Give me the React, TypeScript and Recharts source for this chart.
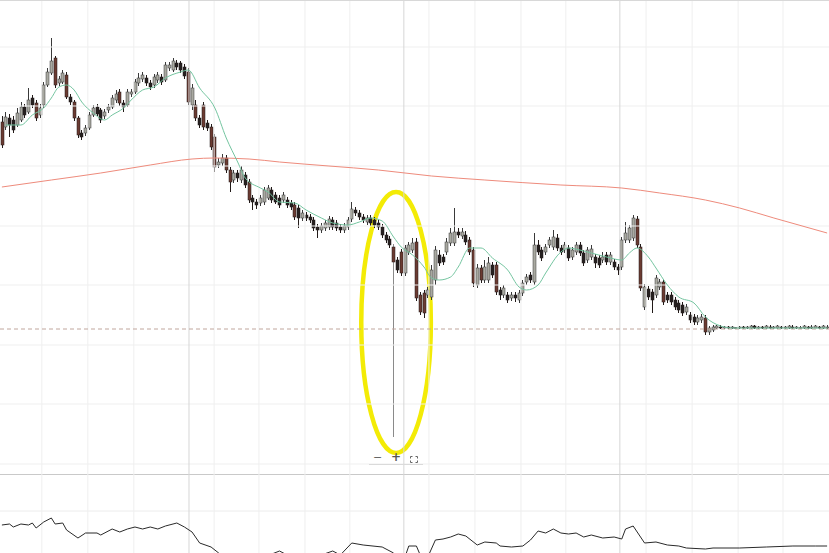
import {
  Bar,
  ComposedChart,
  Line,
  ReferenceArea,
  ReferenceLine,
  XAxis,
  YAxis,
} from "recharts";

// OHLC per candle (price units, larger = higher)
const opens = [
  378, 373, 382, 380, 375, 380, 393, 388, 402, 397,
  385, 395, 415, 427, 442, 417, 418, 425, 403, 398,
  382, 367, 367, 372, 385, 393, 390, 384, 390, 393,
  400, 408, 397, 395, 406, 408, 417, 421, 422, 417,
  415, 420, 423, 420, 432, 430, 437, 437, 433, 428,
  395, 395, 382, 395, 377, 373, 363, 335, 337, 342,
  330, 320, 327, 320, 325, 318, 302, 298, 297, 298,
  302, 310, 305, 302, 300, 300, 297, 295, 292, 282,
  285, 283, 280, 273, 270, 272, 273, 280, 277, 273,
  270, 273, 281, 290, 287, 283, 278, 282, 280, 277,
  273, 265, 261, 253, 240, 248, 227, 248, 250, 258,
  205, 207, 205, 203, 220, 245, 243, 248, 257, 257,
  268, 264, 265, 260, 250, 215, 232, 220, 220, 235,
  235, 210, 205, 205, 202, 205, 200, 207, 218, 225,
  218, 255, 250, 248, 255, 253, 262, 252, 250, 252,
  243, 248, 255, 247, 240, 243, 243, 242, 240, 245,
  238, 238, 233, 233, 260, 260, 262, 281, 253, 193,
  211, 208, 205, 213, 218, 205, 205, 200, 197, 195,
  188, 185, 183, 178, 180, 182, 168, 170, 172, 173,
  172, 173, 172, 172, 172, 173, 172, 172, 174, 172,
  173, 172, 173, 172, 172, 173, 172, 172, 173, 172,
  172, 172, 173, 172, 172, 173, 172, 172,
];
const highs = [
  384, 388, 386, 384, 392, 398, 396, 412, 405, 400,
  396, 418, 432, 462, 444, 424, 430, 428, 406, 400,
  384, 370, 375, 388, 395, 396, 392, 391, 396, 405,
  410, 411, 400, 411, 411, 421, 427, 428, 425, 420,
  426, 428, 426, 438, 438, 442, 440, 439, 436, 432,
  416, 400, 385, 398, 380, 376, 366, 342, 346, 345,
  333, 330, 330, 334, 328, 321, 305, 301, 305, 313,
  315, 313, 308, 305, 308, 303, 300, 298, 295, 290,
  288, 286, 283, 276, 277, 280, 284, 283, 280, 276,
  277, 283, 298, 293, 290, 286, 285, 285, 283, 280,
  276, 268, 264, 256, 243, 251, 255, 258, 262, 262,
  208, 210, 213, 235, 254, 250, 246, 262, 272, 292,
  272, 272, 269, 263, 253, 236, 235, 240, 243, 238,
  238, 213, 215, 208, 208, 208, 210, 220, 226, 228,
  267, 260, 253, 256, 263, 270, 266, 255, 258, 255,
  253, 258, 258, 250, 253, 255, 246, 245, 248, 248,
  248, 241, 236, 263, 278, 275, 285, 284, 256, 216,
  214, 211, 225, 221, 221, 208, 208, 203, 200, 198,
  196, 188, 186, 185, 186, 185, 174, 175, 175, 175,
  174, 174, 174, 173, 174, 174, 174, 175, 175, 174,
  174, 175, 175, 174, 175, 174, 174, 175, 175, 174,
  174, 175, 174, 175, 175, 174, 175, 175,
];
const lows = [
  352, 370, 363, 367, 373, 378, 382, 386, 392, 379,
  382, 392, 413, 425, 412, 414, 416, 401, 395, 379,
  362, 360, 364, 370, 383, 384, 377, 381, 387, 391,
  397, 394, 388, 393, 403, 406, 414, 418, 414, 410,
  412, 417, 415, 418, 429, 428, 430, 427, 421, 395,
  390, 379, 372, 370, 369, 350, 328, 332, 334, 327,
  308, 317, 318, 317, 312, 297, 290, 291, 294, 295,
  300, 297, 296, 292, 297, 292, 290, 280, 272, 279,
  279, 277, 269, 262, 267, 269, 270, 270, 269, 267,
  267, 270, 278, 284, 280, 277, 275, 274, 272, 270,
  262, 257, 252, 63, 227, 224, 224, 245, 247, 199,
  185, 182, 202, 200, 215, 234, 235, 245, 254, 254,
  262, 261, 255, 245, 213, 212, 217, 217, 217, 222,
  205, 200, 202, 197, 199, 198, 197, 204, 215, 217,
  215, 245, 239, 245, 252, 250, 249, 245, 247, 239,
  240, 245, 244, 234, 237, 240, 232, 232, 237, 235,
  235, 230, 225, 230, 257, 257, 259, 252, 209, 190,
  200, 187, 202, 210, 195, 197, 195, 190, 187, 184,
  185, 177, 175, 175, 177, 165, 165, 168, 171, 171,
  171, 171, 171, 171, 171, 171, 171, 171, 171, 171,
  171, 171, 171, 171, 171, 171, 171, 171, 171, 171,
  171, 171, 171, 171, 172, 171, 171, 171,
];
const closes = [
  355, 383, 375, 370, 387, 393, 385, 400, 395, 382,
  392, 415, 428, 439, 415, 421, 427, 403, 398, 382,
  365, 363, 372, 385, 392, 386, 380, 388, 393, 402,
  406, 397, 393, 408, 408, 418, 422, 425, 417, 413,
  423, 425, 418, 435, 435, 439, 433, 430, 424, 398,
  412, 382, 375, 373, 372, 353, 333, 338, 342, 330,
  318, 327, 322, 330, 315, 300, 298, 295, 302, 310,
  312, 300, 298, 295, 305, 295, 293, 283, 282, 287,
  282, 280, 272, 270, 274, 277, 281, 273, 272, 270,
  274, 280, 291, 287, 283, 280, 282, 277, 275, 273,
  265, 260, 255, 238, 230, 227, 252, 255, 257, 202,
  188, 187, 210, 230, 250, 237, 238, 258, 267, 268,
  265, 268, 258, 248, 217, 232, 220, 233, 237, 225,
  208, 205, 212, 200, 205, 202, 207, 217, 223, 220,
  255, 248, 242, 253, 260, 263, 252, 248, 255, 242,
  250, 255, 247, 237, 250, 251, 237, 235, 243, 238,
  245, 233, 230, 260, 267, 272, 282, 255, 212, 213,
  203, 200, 222, 218, 198, 200, 198, 193, 190, 187,
  193, 180, 178, 182, 183, 168, 172, 173, 174, 172,
  173, 172, 173, 172.5, 173, 172, 173, 174, 172, 173,
  172, 174, 172, 173, 174, 172, 173, 174, 172, 173,
  172.5, 174, 172, 173, 174, 172, 174, 173,
];

// moving averages read at anchor candles: [candle index, value]
const fastMa = [
  [1, 375], [5, 375], [8, 385], [11, 392], [13, 402], [15, 413], [17, 415],
  [19, 410], [21, 398], [24, 387], [27, 380], [29, 385], [32, 392], [34, 400],
  [37, 410], [40, 413], [43, 422], [47, 428], [49, 430], [52, 412], [56, 392],
  [59, 362], [62, 338], [64, 322], [68, 312], [70, 308], [73, 298], [77, 297],
  [80, 290], [84, 282], [87, 277], [91, 275], [94, 278], [97, 282], [100, 279],
  [103, 263], [105, 253], [108, 245], [111, 233], [113, 222], [115, 220],
  [118, 223], [120, 233], [123, 252], [126, 252], [129, 242], [133, 230],
  [136, 213], [138, 210], [141, 215], [143, 227], [147, 248], [149, 252],
  [152, 250], [155, 247], [159, 243], [163, 240], [165, 247], [167, 252],
  [170, 243], [172, 232], [175, 215], [178, 203], [182, 197], [185, 183],
  [189, 174], [192, 172], [200, 172], [210, 172], [217, 172],
];
const slowMa = [
  [0, 313], [13, 320], [26, 327], [39, 335], [50, 341], [56, 342], [65, 341],
  [73, 338], [86, 334], [99, 330], [113, 324], [127, 320], [147, 315],
  [163, 312], [173, 307], [185, 300], [194, 292], [203, 282], [217, 267],
];
// lower pane oscillator: [candle index, value]
const oscillator = [
  [0, 35], [2, 36], [3, 33], [5, 36], [7, 35], [8, 37], [9, 32], [11, 38],
  [13, 42], [14, 36], [16, 37], [17, 30], [20, 22], [22, 27], [25, 27],
  [26, 25], [29, 31], [31, 28], [33, 31], [35, 33], [37, 31], [39, 33],
  [41, 31], [43, 34], [45, 36], [46, 37], [48, 33], [50, 28], [52, 17],
  [55, 13], [57, 7], [59, 0], [62, -3], [66, 2], [69, 4], [71, 6], [73, 9],
  [75, 5], [78, 3], [81, 4], [84, 5], [87, 9], [89, 5], [92, 17], [95, 15],
  [100, 13], [103, 7], [104, 2], [106, 3], [107, 14], [109, 14], [110, 5],
  [112, 3], [114, 20], [116, 21], [118, 23], [120, 26], [122, 24], [125, 15],
  [127, 18], [130, 17], [131, 14], [134, 13], [137, 14], [139, 20], [141, 29],
  [143, 27], [145, 31], [147, 27], [149, 26], [151, 27], [153, 23], [155, 25],
  [158, 22], [161, 23], [163, 21], [164, 31], [166, 34], [169, 17], [172, 18],
  [175, 15], [178, 14], [180, 12], [185, 11], [187, 12], [194, 12], [201, 13],
  [208, 14], [214, 14], [217, 14],
];

const priceGrid = [36, 96, 155, 215, 274, 334, 394, 453];
const lightTimeGrid = [
  10.5, 22.6, 34.7, 55.8, 67.6, 79.7, 91.5, 112.3, 124.4, 136.5, 148.3, 169.4,
  181.5, 193.6, 205.4,
];
const monthGrid = [49.2, 105.7, 162.5];
const dashedLevel = 171;
// highlighted region (candle index span, price span)
const markIdx = [94.5, 112.8];
const markPrice = [47, 308];

const W = 829;
const MAIN_H = 474;
const LOW_H = 79;
const X_DOMAIN: [number, number] = [-0.5, opens.length - 0.5];

type Row = {
  i: number;
  open: number;
  high: number;
  low: number;
  close: number;
  range: [number, number];
  fast: number | null;
  slow: number | null;
  osc: number | null;
};

const rows: Row[] = opens.map((o, i) => ({
  i,
  open: o,
  high: highs[i],
  low: lows[i],
  close: closes[i],
  range: [lows[i], highs[i]],
  fast: null,
  slow: null,
  osc: null,
}));
for (const [i, v] of fastMa) rows[i].fast = v;
for (const [i, v] of slowMa) rows[i].slow = v;
for (const [i, v] of oscillator) rows[i].osc = v;

function Candle(props: any) {
  const { x, y, width, height, payload } = props;
  if (!payload || x == null) return null;
  const top = Math.min(y, y + height);
  const h = Math.abs(height);
  const span = payload.high - payload.low;
  const k = span > 0 ? h / span : 0;
  const yO = top + (payload.high - payload.open) * k;
  const yC = top + (payload.high - payload.close) * k;
  const up = payload.close >= payload.open;
  const cx = Math.round(x + width / 2) + 0.5;
  const bodyTop = Math.min(yO, yC);
  const bodyH = Math.max(1, Math.abs(yC - yO));
  // bigger drops show up brown, small ones near-black
  const bigDrop = !up && payload.open - payload.close > 10;
  const fill = up ? "#a9a9a1" : bigDrop ? "#6b3b32" : "#262120";
  const edge = up ? "#3a3a3a" : "#221a18";
  return (
    <g>
      <line
        x1={cx}
        x2={cx}
        y1={top}
        y2={top + h}
        stroke={h > 80 ? "#8a8a8a" : edge}
        strokeWidth={1}
      />
      <rect
        x={cx - 1.5}
        y={bodyTop}
        width={3}
        height={bodyH}
        fill={fill}
        stroke={edge}
        strokeWidth={0.5}
      />
    </g>
  );
}

function Ellipse(props: any) {
  const { x, y, width, height } = props;
  return (
    <ellipse
      cx={x + width / 2}
      cy={y + height / 2}
      rx={width / 2}
      ry={height / 2}
      fill="none"
      stroke="#f3eb06"
      strokeWidth={4.5}
    />
  );
}

function TimeGrid() {
  return (
    <>
      {lightTimeGrid.map((t) => (
        <ReferenceLine key={`l${t}`} x={t} stroke="#efefef" strokeWidth={1} />
      ))}
      {monthGrid.map((t) => (
        <ReferenceLine key={`m${t}`} x={t} stroke="#d6d6d6" strokeWidth={1} />
      ))}
    </>
  );
}

export default function App() {
  return (
    <div
      style={{
        position: "absolute",
        left: 0,
        top: 0,
        width: W,
        height: MAIN_H + LOW_H,
        background: "#fff",
        overflow: "hidden",
        fontFamily: "DejaVu Sans, sans-serif",
      }}
    >
      <ComposedChart
        width={W}
        height={MAIN_H}
        data={rows}
        margin={{ top: 0, right: 0, bottom: 0, left: 0 }}
      >
        <XAxis dataKey="i" type="number" domain={X_DOMAIN} hide allowDataOverflow />
        <YAxis type="number" domain={[26, 500]} hide allowDataOverflow />
        {priceGrid.map((p) => (
          <ReferenceLine key={`p${p}`} y={p} stroke="#efefef" strokeWidth={1} />
        ))}
        {TimeGrid()}
        <ReferenceLine
          y={dashedLevel}
          stroke="#c0a69d"
          strokeDasharray="4 3"
          strokeWidth={1}
        />
        <Line
          dataKey="slow"
          type="monotone"
          stroke="#ee8b7c"
          strokeWidth={1}
          dot={false}
          connectNulls
          isAnimationActive={false}
        />
        <Line
          dataKey="fast"
          type="monotone"
          stroke="#74c5a0"
          strokeWidth={1}
          dot={false}
          connectNulls
          isAnimationActive={false}
        />
        <Bar dataKey="range" barSize={3} shape={Candle} isAnimationActive={false} />
        <ReferenceArea
          x1={markIdx[0]}
          x2={markIdx[1]}
          y1={markPrice[0]}
          y2={markPrice[1]}
          ifOverflow="visible"
          shape={Ellipse}
        />
      </ComposedChart>

      <div
        style={{
          position: "absolute",
          left: 0,
          top: 0,
          width: W,
          height: 1,
          background: "#d8d8d8",
        }}
      />

      {/* small zoom toolbar under the pane */}
      <div
        style={{
          position: "absolute",
          left: 369,
          top: 464,
          width: 54,
          height: 1,
          background: "#dadada",
        }}
      />
      <span
        style={{ position: "absolute", left: 373, top: 451, fontSize: 11, color: "#666" }}
      >
        −
      </span>
      <span
        style={{
          position: "absolute",
          left: 391,
          top: 450,
          fontSize: 12,
          fontWeight: 700,
          color: "#555",
        }}
      >
        +
      </span>
      <svg
        style={{ position: "absolute", left: 410, top: 456 }}
        width={8}
        height={7}
      >
        <path
          d="M0.5 2.5V0.5H2.5M5.5 0.5H7.5V2.5M7.5 4.5V6.5H5.5M2.5 6.5H0.5V4.5"
          fill="none"
          stroke="#666"
          strokeWidth={1}
        />
      </svg>

      <div
        style={{
          position: "absolute",
          left: 0,
          top: MAIN_H,
          width: W,
          height: 1,
          background: "#c9c9c9",
        }}
      />
      <div style={{ position: "absolute", left: 0, top: MAIN_H }}>
        <ComposedChart
          width={W}
          height={LOW_H}
          data={rows}
          margin={{ top: 0, right: 0, bottom: 0, left: 0 }}
        >
          <XAxis dataKey="i" type="number" domain={X_DOMAIN} hide allowDataOverflow />
          <YAxis type="number" domain={[7, 86]} hide allowDataOverflow />
          <ReferenceLine y={49} stroke="#ececec" strokeWidth={1} />
          {TimeGrid()}
          <Line
            dataKey="osc"
            type="linear"
            stroke="#2a2a2a"
            strokeWidth={1}
            dot={false}
            connectNulls
            isAnimationActive={false}
          />
        </ComposedChart>
      </div>
    </div>
  );
}
